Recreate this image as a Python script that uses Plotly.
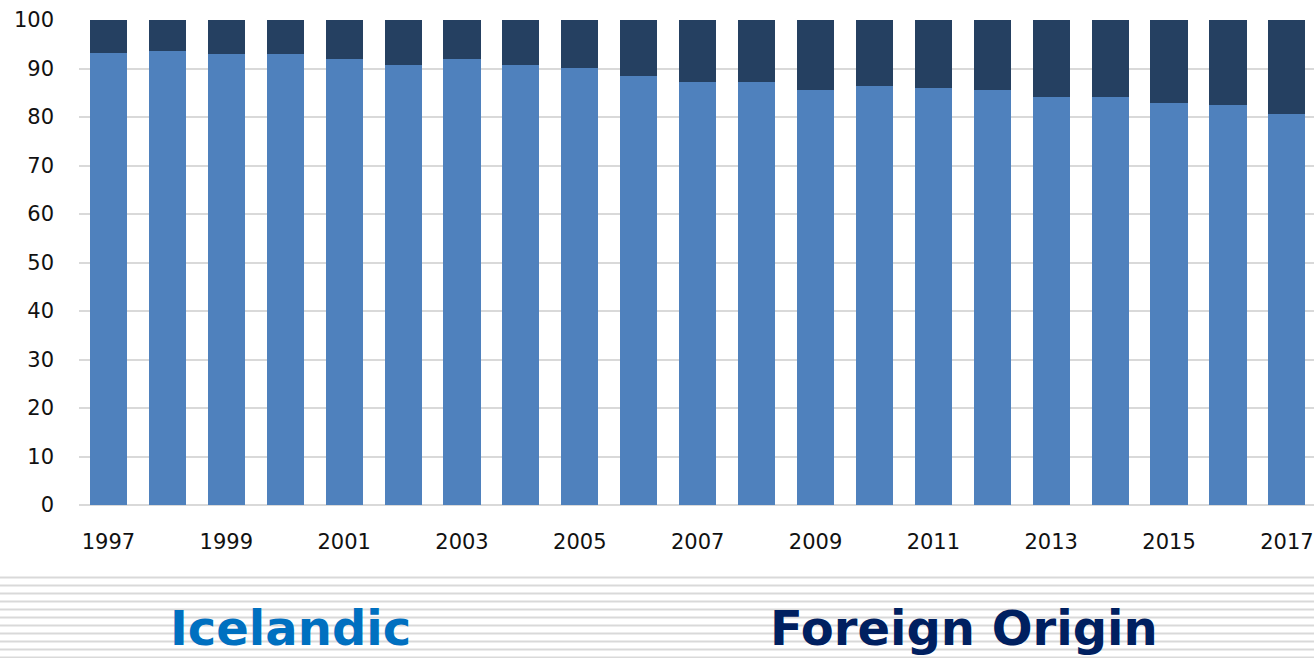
import plotly.graph_objects as go

years = list(range(1997, 2018))
icelandic = [93.3, 93.7, 92.9, 92.9, 92.0, 90.7, 92.0, 90.7, 90.2, 88.5, 87.2,
             87.2, 85.5, 86.3, 85.9, 85.5, 84.2, 84.2, 82.9, 82.4, 80.7]
foreign = [round(100 - v, 1) for v in icelandic]
tick_years = list(range(1997, 2018, 2))
y_ticks = list(range(0, 101, 10))

W, H = 1314, 658
ML, MR, MT, MB = 79, 0, 20, 153
plot_h = H - MT - MB

fig = go.Figure()
fig.add_trace(go.Bar(x=years, y=icelandic, name="Icelandic",
                     marker=dict(color="#4F81BD", line=dict(width=0)), width=0.63))
fig.add_trace(go.Bar(x=years, y=foreign, name="Foreign Origin",
                     marker=dict(color="#254061", line=dict(width=0)), width=0.63))


def py2paper(py):
    return (H - MB - py) / plot_h


def px2paper(px):
    return (px - ML) / (W - ML - MR)


# striped band below the chart
shapes = []
for k in range(11):
    yp = py2paper(577.5 + 8 * k)
    shapes.append(dict(type="line", xref="paper", yref="paper",
                       x0=px2paper(0), x1=1.0, y0=yp, y1=yp,
                       line=dict(color="#d9d9d9", width=2), layer="below"))

annotations = [
    dict(text="<b>Icelandic</b>", x=px2paper(290), y=py2paper(628), xref="paper", yref="paper",
         showarrow=False, xanchor="center", yanchor="middle",
         font=dict(family="DejaVu Sans", size=48, color="#0070C0")),
    dict(text="<b>Foreign Origin</b>", x=px2paper(964), y=py2paper(628), xref="paper", yref="paper",
         showarrow=False, xanchor="center", yanchor="middle",
         font=dict(family="DejaVu Sans", size=48, color="#002060")),
]

fig.update_layout(
    barmode="stack",
    width=W, height=H,
    margin=dict(l=ML, r=MR, t=MT, b=MB, pad=0),
    plot_bgcolor="white", paper_bgcolor="white",
    showlegend=False,
    shapes=shapes,
    annotations=annotations,
    font=dict(family="DejaVu Sans", size=21, color="#111111"),
)
fig.update_xaxes(range=[1996.5, 2017.46], tickmode="array", tickvals=tick_years,
                 ticktext=[str(y) for y in tick_years], showgrid=False, zeroline=False,
                 showline=False, ticks="", ticklabelstandoff=22,
                 tickfont=dict(family="DejaVu Sans", size=21, color="#111111"))
fig.update_yaxes(range=[0, 100], tickmode="array", tickvals=y_ticks,
                 showgrid=True, gridcolor="#d9d9d9", gridwidth=1.5,
                 zeroline=True, zerolinecolor="#d9d9d9", zerolinewidth=1.5,
                 showline=False, ticks="", ticklabelstandoff=24,
                 tickfont=dict(family="DejaVu Sans", size=21, color="#111111"))

fig.write_html("out.html", config={"displayModeBar": False},
               post_script="document.body.style.margin='0';document.body.style.overflow='hidden';")
